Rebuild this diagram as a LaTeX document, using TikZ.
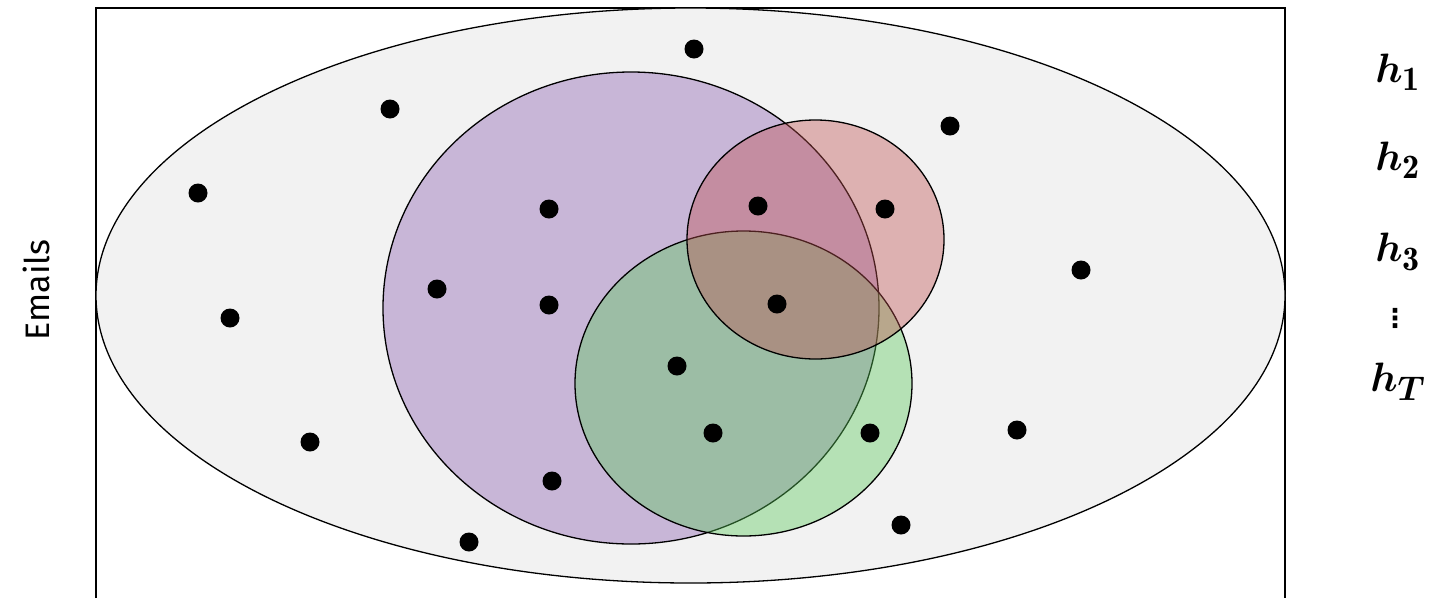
\documentclass[tikz,border=0pt]{standalone}
\usepackage{fontspec}
\usepackage{bm}
\usetikzlibrary{shapes.geometric}
\newfontfamily\emailfont{Fira Sans}
\newfontfamily\djv{DejaVu Sans}
\definecolor{bggray}{RGB}{242,242,242}
\definecolor{purp}{RGB}{160,124,190}
\definecolor{redc}{RGB}{190,80,80}
\definecolor{grn}{RGB}{90,200,90}
\newcommand{\hlab}[1]{\scalebox{1.65}{\Huge$#1$}}
\begin{document}
\begin{tikzpicture}[x=1pt,y=-1pt,
  dot/.style={circle,fill=black,inner sep=0pt,minimum size=19pt},
  setline/.style={draw=black,line width=1.3pt}]
\useasboundingbox (0,0) rectangle (1435,598);
\draw[line width=1.2pt] (96,598) coordinate (rbl) -- (96,8) -- (1285,8) -- (1285,598);
\node[draw=black,line width=1.3pt,fill=bggray,ellipse,minimum width=1189pt,minimum height=575pt,inner sep=0pt] (univ) at (690.5,295.5) {};
\filldraw[setline,fill=purp,fill opacity=0.5] (631,308) ellipse [x radius=248,y radius=236];
\filldraw[setline,fill=grn,fill opacity=0.4] (743.5,383.5) ellipse [x radius=168.5,y radius=152.5];
\filldraw[setline,fill=redc,fill opacity=0.4] (815.5,239.5) ellipse [x radius=128.5,y radius=119.5];
\foreach \p [count=\i] in {(694,49),(390,109),(950,126),(198,193),(549,209),(758,206),(885,209),(1081,270),(230,318),(437,289),(549,305),(777,304),(677,366),(713,433),(870,433),(1017,430),(310,442),(552,481),(901,525),(469,542)}
  \node[dot] (d\i) at \p {};
\node[rotate=90,font=\emailfont\fontsize{34}{40}\selectfont] (emails) at (36,290) {Emails};
\node (h1) at (1398,72) {\hlab{\bm{h}_{\mathbf{1}}}};
\node (h2) at (1398,160) {\hlab{\bm{h}_{\mathbf{2}}}};
\node (h3) at (1398,252) {\hlab{\bm{h}_{\mathbf{3}}}};
\node[font=\djv\bfseries\fontsize{26}{28}\selectfont,inner sep=0pt] (vd) at (1395,318) {⋮};
\node (hT) at (1398,382) {\hlab{\bm{h}_{\bm{T}}}};
\end{tikzpicture}
\end{document}
